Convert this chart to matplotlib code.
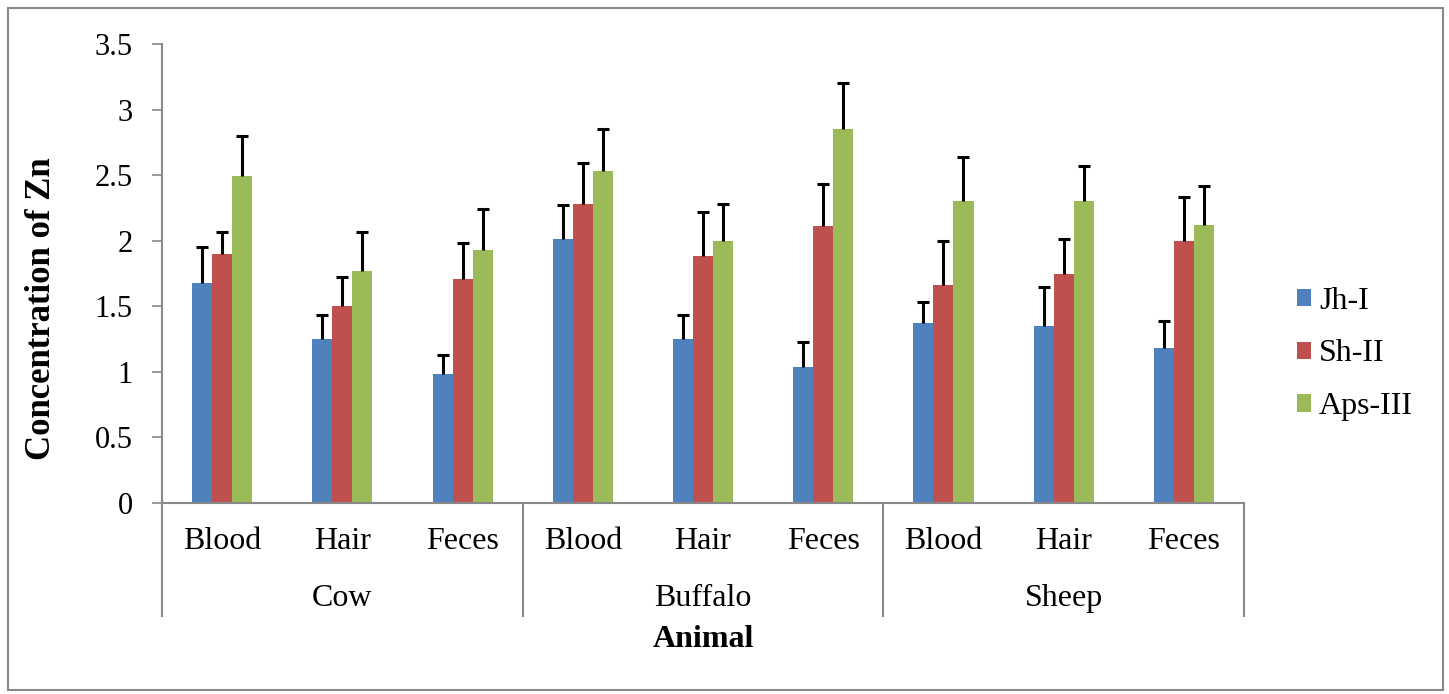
import matplotlib.pyplot as plt
import numpy as np
from matplotlib.patches import Rectangle
from matplotlib.transforms import blended_transform_factory

plt.rcParams["font.family"] = ["Liberation Serif", "DejaVu Serif"]

# --- data ---
animals = ["Cow", "Buffalo", "Sheep"]
samples = ["Blood", "Hair", "Feces"]
series = ["Jh-I", "Sh-II", "Aps-III"]

jh_i = [1.68, 1.25, 0.98, 2.01, 1.25, 1.04, 1.37, 1.35, 1.18]
sh_ii = [1.90, 1.50, 1.71, 2.28, 1.88, 2.11, 1.66, 1.75, 2.00]
aps_iii = [2.49, 1.77, 1.93, 2.53, 2.00, 2.85, 2.30, 2.30, 2.12]

jh_i_err = [0.27, 0.18, 0.15, 0.26, 0.18, 0.19, 0.16, 0.30, 0.21]
sh_ii_err = [0.17, 0.22, 0.27, 0.31, 0.34, 0.32, 0.34, 0.26, 0.33]
aps_iii_err = [0.31, 0.30, 0.31, 0.32, 0.28, 0.35, 0.34, 0.27, 0.30]

y_ticks = [0, 0.5, 1, 1.5, 2, 2.5, 3, 3.5]
y_tick_labels = ["0", "0.5", "1", "1.5", "2", "2.5", "3", "3.5"]

colors = ["#4F81BD", "#C0504D", "#9BBB59"]
GRAY = "#898989"
FS = 23

fig = plt.figure(figsize=(14.49, 6.94), dpi=100)
ax = fig.add_axes([162 / 1449, 191 / 694, 1082 / 1449, 459 / 694])

n_cat = len(animals) * len(samples)
x = np.arange(n_cat) + 0.5
width = 1 / 6
values = [jh_i, sh_ii, aps_iii]
errors = [jh_i_err, sh_ii_err, aps_iii_err]

handles = []
for i, (vals, errs, col, name) in enumerate(zip(values, errors, colors, series)):
    xpos = x + (i - 1) * width
    h = ax.bar(xpos, vals, width=width, color=col, label=name, zorder=2)
    handles.append(h)
    eb = ax.errorbar(
        xpos, vals, yerr=[np.zeros(n_cat), errs], fmt="none",
        ecolor="black", elinewidth=2.2, capsize=4.5, capthick=2.2, zorder=3,
    )
    # plus-only error bars: drop the cap sitting on the bar top
    eb[1][0].set_visible(False)

ax.set_xlim(0, n_cat)
ax.set_ylim(0, 3.5)
ax.set_yticks(y_ticks)
ax.set_yticklabels(y_tick_labels, fontsize=22)
ax.tick_params(axis="y", direction="out", length=7, width=1.2, color=GRAY, pad=14)
ax.set_xticks([])

for side in ["top", "right"]:
    ax.spines[side].set_visible(False)
for side in ["left", "bottom"]:
    ax.spines[side].set_color(GRAY)
    ax.spines[side].set_linewidth(1.5)

# --- two-level category axis (Excel style) ---
trans = blended_transform_factory(ax.transData, ax.transAxes)
for k in range(len(animals) + 1):
    ax.plot([k * 3, k * 3], [0, -0.246], color=GRAY, lw=1.5,
            transform=trans, clip_on=False)
for j in range(n_cat):
    ax.text(x[j], -0.084, samples[j % 3], transform=trans,
            ha="center", va="center", fontsize=FS)
for k, name in enumerate(animals):
    ax.text(k * 3 + 1.5, -0.208, name, transform=trans,
            ha="center", va="center", fontsize=FS)
ax.text(4.5, -0.298, "Animal", transform=trans, ha="center", va="center",
        fontsize=FS, fontweight="bold")

fig.text(42 / 1449, 1 - 309 / 694, "Concentration of Zn", rotation=90,
         ha="center", va="center", fontsize=25, fontweight="bold")

fig.legend(
    handles=handles, labels=series, loc="center left",
    bbox_to_anchor=(1268 / 1449, 1 - 354 / 694), frameon=False,
    fontsize=FS, handlelength=0.45, handleheight=0.45, handletextpad=0.25,
    labelspacing=0.75,
)

# outer chart border
fig.patches.append(Rectangle((8 / 1449, 4 / 694), 1435 / 1449, 682 / 694,
                             transform=fig.transFigure, fill=False,
                             edgecolor=GRAY, lw=1.5))

fig.savefig("out.png", dpi=100)
